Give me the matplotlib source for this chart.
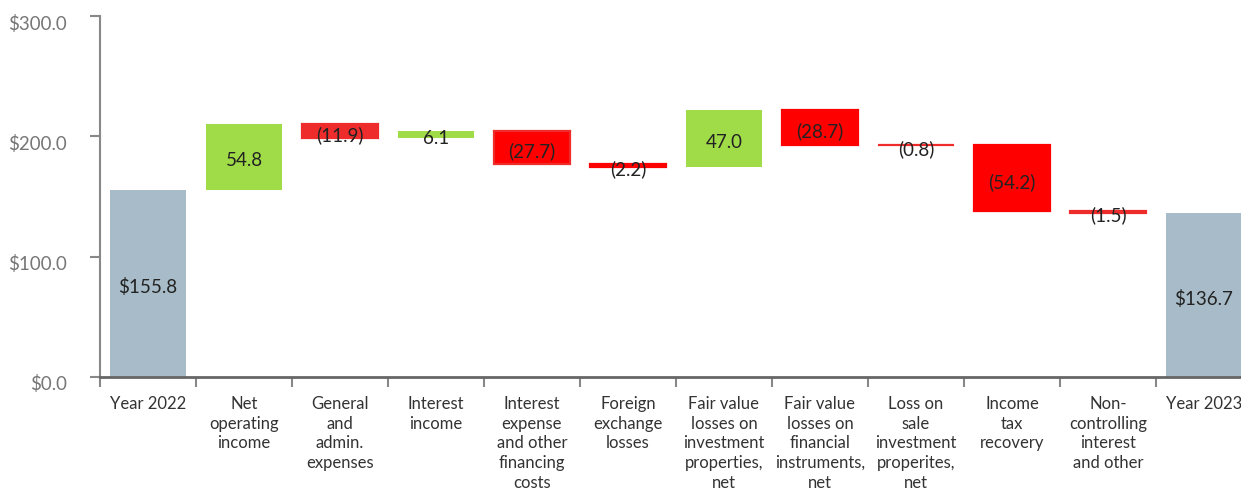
import matplotlib
matplotlib.use('Agg')
import matplotlib.pyplot as plt
from matplotlib.transforms import ScaledTranslation
import numpy as np

categories = [
    'Year 2022', 'Net\noperating\nincome', 'General\nand\nadmin.\nexpenses',
    'Interest\nincome', 'Interest\nexpense\nand other\nfinancing\ncosts',
    'Foreign\nexchange\nlosses',
    'Fair value\nlosses on\ninvestment\nproperties,\nnet',
    'Fair value\nlosses on\nfinancial\ninstruments,\nnet',
    'Loss on\nsale\ninvestment\nproperites,\nnet',
    'Income\ntax\nrecovery', 'Non-\ncontrolling\ninterest\nand other',
    'Year 2023',
]
start_value = 155.8
end_value = 136.7
changes = [54.8, -11.9, 6.1, -27.7, -2.2, 47.0, -28.7, -0.8, -54.2, -1.5]
yticks = [0, 100, 200, 300]

plt.rcParams['font.family'] = ['Lato', 'DejaVu Sans']

W, H = 1241, 489
fig = plt.figure(figsize=(W / 100, H / 100), dpi=100)
ax = fig.add_axes([100 / W, (H - 378) / H, 1152 / W, (378 - 17) / H])

x = np.arange(len(categories))
width = 0.8
grey = '#A7BBC8'
green = '#A0DC48'
red = '#FF0000'
soft_red = '#EE2C2C'
red_cols = {1: soft_red, 7: soft_red, 9: soft_red}
txt = '#222222'

# totals
ax.bar(x[0], start_value, width, color=grey)
ax.bar(x[-1], end_value, width, color=grey)
ax.text(x[0], start_value * 0.5 - 2.5, '$%.1f' % start_value, ha='center',
        va='center', fontsize=13.5, color=txt)
ax.text(x[-1], end_value * 0.5 - 2.5, '$%.1f' % end_value, ha='center',
        va='center', fontsize=13.5, color=txt)

level = start_value
for i, c in enumerate(changes):
    pos = x[i + 1]
    bottom = level if c >= 0 else level + c
    if c >= 0:
        ax.bar(pos, c, width, bottom=bottom, color=green)
        label = '%.1f' % c
    else:
        col = red_cols.get(i, red)
        ax.bar(pos, -c, width, bottom=bottom, color=col,
               edgecolor=soft_red if i in (3, 7, 9) else col, linewidth=1.6)
        label = '(%.1f)' % -c
    ax.text(pos, bottom + abs(c) / 2 - 2.5, label, ha='center', va='center',
            fontsize=13.5, color=txt)
    level += c

ax.set_xlim(-0.5, len(categories) - 0.5)
ax.set_ylim(0, 300)
ax.set_yticks(yticks)
ax.set_yticklabels(['$%.1f' % v for v in yticks])
ax.tick_params(axis='y', length=7.2, width=1.5, color='#888888',
               labelcolor='#777777', labelsize=13.5, pad=16.5)
shift = ScaledTranslation(0, -0.05, fig.dpi_scale_trans)
for lab in ax.get_yticklabels():
    lab.set_transform(lab.get_transform() + shift)
ax.set_xticks(x)
ax.set_xticklabels(categories, fontsize=12, color='#333333',
                   linespacing=1.28, va='top')
ax.set_xticks(np.arange(len(categories) + 1) - 0.5, minor=True)
ax.tick_params(axis='x', which='major', length=0, pad=13)
ax.tick_params(axis='x', which='minor', length=7.2, width=1.5,
               color='#888888')

for s in ['top', 'right']:
    ax.spines[s].set_visible(False)
ax.spines['left'].set_color('#888888')
ax.spines['left'].set_linewidth(1.5)
ax.spines['bottom'].set_color('#666666')
ax.spines['bottom'].set_linewidth(2)

fig.savefig('out.png', dpi=100)
